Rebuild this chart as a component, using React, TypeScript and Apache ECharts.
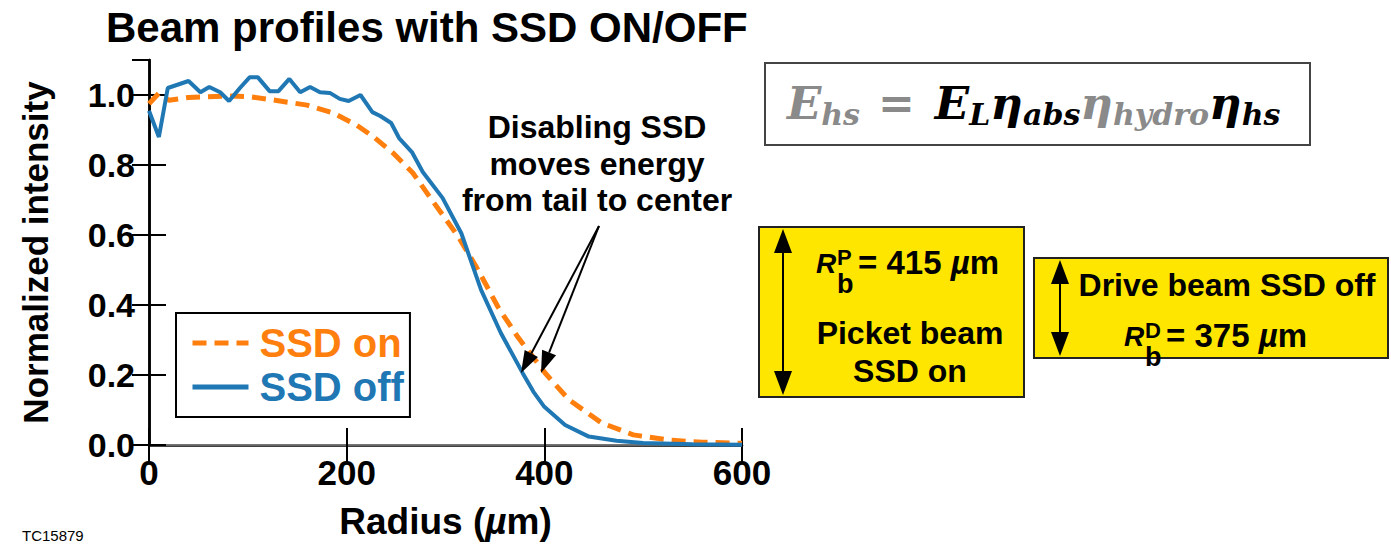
import React, { useEffect, useRef } from "react";
import * as echarts from "echarts";

const FONT = '"Liberation Sans", Arial, Helvetica, sans-serif';
const SERIF = '"DejaVu Serif", "Liberation Serif", serif';

// SSD off (solid blue)
const radiusOff = [0, 10, 19, 40, 52, 61, 72, 81, 92, 102, 110, 122, 131, 142, 153, 163, 173, 183, 193, 202, 214, 226, 234, 245, 253, 266, 277, 297, 316, 336, 356, 378, 389, 400, 421, 445, 473, 500, 550, 600];
const intensityOff = [0.955, 0.88, 1.02, 1.04, 1.008, 1.023, 1.008, 0.983, 1.02, 1.051, 1.051, 1.011, 1.011, 1.046, 1.008, 1.023, 1.008, 1.006, 0.989, 0.983, 1.0, 0.951, 0.94, 0.92, 0.877, 0.837, 0.78, 0.706, 0.605, 0.443, 0.32, 0.206, 0.152, 0.109, 0.057, 0.024, 0.012, 0.006, 0.002, 0.001];

// SSD on (dashed orange)
const radiusOn = [0, 10, 20, 40, 60, 80, 102, 125, 160, 186, 210, 227, 247, 267, 285, 313, 333, 353, 373, 393, 401, 425, 458, 490, 526, 560, 600];
const intensityOn = [0.975, 1.005, 0.985, 0.993, 0.995, 0.997, 0.995, 0.986, 0.971, 0.949, 0.914, 0.881, 0.834, 0.777, 0.705, 0.595, 0.5, 0.395, 0.309, 0.235, 0.205, 0.129, 0.063, 0.029, 0.014, 0.008, 0.005];

const xTicks = [0, 200, 400, 600];
const yTickStep = 0.2;

const annotationLines = ["Disabling SSD", "moves energy", "from tail to center"];

function txt(x: number, y: number, text: string, opts: any = {}) {
  const align = opts.align || "left";
  const valign = opts.valign || "middle";
  return {
    type: "text",
    x,
    y,
    z: 10,
    style: {
      text,
      fontSize: opts.size || 32,
      fontWeight: opts.weight || "bold",
      fontStyle: opts.italic ? "italic" : "normal",
      fontFamily: opts.family || FONT,
      fill: opts.color || "#000",
      align,
      verticalAlign: valign,
      textAlign: align,
      textVerticalAlign: valign,
      lineHeight: opts.lineHeight,
      rich: opts.rich,
    },
  };
}

function arrowHead(tx: number, ty: number, fx: number, fy: number, len: number, w: number) {
  const dx = tx - fx;
  const dy = ty - fy;
  const d = Math.sqrt(dx * dx + dy * dy);
  const ux = dx / d;
  const uy = dy / d;
  const bx = tx - ux * len;
  const by = ty - uy * len;
  const px = -uy * w / 2;
  const py = ux * w / 2;
  return {
    pts: [[tx, ty], [bx + px, by + py], [bx - px, by - py]],
    base: [bx, by],
  };
}

function arrow(x1: number, y1: number, x2: number, y2: number, len: number, w: number, lw: number, both = false) {
  const h2 = arrowHead(x2, y2, x1, y1, len, w);
  const out: any[] = [];
  let start = [x1, y1];
  if (both) {
    const h1 = arrowHead(x1, y1, x2, y2, len, w);
    start = h1.base;
    out.push({ type: "polygon", z: 11, shape: { points: h1.pts }, style: { fill: "#000" } });
  }
  out.push({
    type: "line",
    z: 11,
    shape: { x1: start[0], y1: start[1], x2: h2.base[0], y2: h2.base[1] },
    style: { stroke: "#000", lineWidth: lw },
  });
  out.push({ type: "polygon", z: 11, shape: { points: h2.pts }, style: { fill: "#000" } });
  return out;
}

function radiusLabel(x: number, y: number, sup: string, value: string) {
  // R with stacked superscript / subscript
  return [
    txt(x, y, "R", { size: 28, italic: true }),
    txt(x + 21, y - 6, sup, { size: 22 }),
    txt(x + 21, y + 21, "b", { size: 27 }),
    txt(x + 42, y - 1, `= ${value} {mu|µ}m`, {
      size: 33,
      rich: { mu: { fontSize: 33, fontStyle: "italic", fontWeight: "bold", fontFamily: FONT, fill: "#000" } },
    }),
  ];
}

export default function App() {
  const ref = useRef<HTMLDivElement>(null);

  useEffect(() => {
    if (!ref.current) return;
    const chart = echarts.init(ref.current, undefined, { renderer: "svg" });

    const eqBase = { fontFamily: SERIF, fontWeight: "bold", fontStyle: "italic" };
    const gray = "#8a8a8a";

    const graphic: any[] = [
      // equation box
      {
        type: "rect",
        z: 5,
        shape: { x: 765, y: 63, width: 545, height: 82 },
        style: { fill: "#fff", stroke: "#444", lineWidth: 2 },
      },
      txt(787, 103, "{g|E}{gs|hs}{eq|=}{b|E}{bs|L}{b|η}{bs|abs}{g|η}{gs|hydro}{b|η}{bs|hs}", {
        rich: {
          g: { ...eqBase, fontSize: 45, lineHeight: 52, fill: gray },
          gs: { ...eqBase, fontSize: 30, lineHeight: 20, verticalAlign: "bottom", fill: gray },
          eq: { fontFamily: SERIF, fontWeight: "bold", fontSize: 44, lineHeight: 52, fill: gray, padding: [0, 20, 0, 18] },
          b: { ...eqBase, fontSize: 45, lineHeight: 52, fill: "#000" },
          bs: { ...eqBase, fontSize: 30, lineHeight: 20, verticalAlign: "bottom", fill: "#000" },
        },
      }),
      // picket beam box
      {
        type: "rect",
        z: 5,
        shape: { x: 759, y: 227, width: 265, height: 170 },
        style: { fill: "#ffe600", stroke: "#222", lineWidth: 2 },
      },
      ...arrow(783, 229, 783, 395, 24, 18, 2, true),
      ...radiusLabel(816, 263, "P", "415"),
      txt(910, 333, "Picket beam", { align: "center" }),
      txt(910, 371, "SSD on", { align: "center" }),
      // drive beam box
      {
        type: "rect",
        z: 5,
        shape: { x: 1034, y: 258, width: 354, height: 100 },
        style: { fill: "#ffe600", stroke: "#222", lineWidth: 2 },
      },
      ...arrow(1060, 260, 1060, 356, 24, 18, 2, true),
      txt(1227, 285, "Drive beam SSD off", { align: "center" }),
      ...radiusLabel(1124, 336, "D", "375"),
      // annotation
      txt(597, 127, annotationLines[0], { align: "center" }),
      txt(597, 164, annotationLines[1], { align: "center" }),
      txt(597, 200, annotationLines[2], { align: "center" }),
      ...arrow(599, 226, 521, 373, 22, 15, 2),
      ...arrow(599, 226, 541, 373, 22, 15, 2),
      // figure code
      txt(22, 535, "TC15879", { size: 15, weight: "normal" }),
    ];

    const yFmt = (v: number) => {
      const k = Math.round(v / yTickStep);
      return Math.abs(k * yTickStep - v) < 1e-6 ? v.toFixed(1) : "";
    };

    chart.setOption({
      animation: false,
      backgroundColor: "#fff",
      textStyle: { fontFamily: FONT },
      title: {
        text: "Beam profiles with SSD ON/OFF",
        left: 106,
        top: 6,
        padding: 0,
        textStyle: { fontFamily: FONT, fontWeight: "bold", fontSize: 42, color: "#000" },
      },
      grid: { left: 149, top: 60, width: 593, height: 385, containLabel: false },
      legend: {
        orient: "vertical",
        left: 176,
        top: 313,
        padding: [8, 6, 8, 14],
        itemGap: 0,
        itemWidth: 56,
        itemHeight: 20,
        borderColor: "#000",
        borderWidth: 2,
        backgroundColor: "#fff",
        itemStyle: { opacity: 0 },
        lineStyle: { width: 5 },
        textStyle: { fontFamily: FONT, fontWeight: "bold", fontSize: 40, lineHeight: 44, padding: [0, 0, 0, 6] },
        data: [
          { name: "SSD on", textStyle: { color: "#ff7f0e" } },
          { name: "SSD off", textStyle: { color: "#1f77b4" } },
        ],
      },
      xAxis: [
        {
          type: "value",
          position: "bottom",
          min: xTicks[0],
          max: xTicks[xTicks.length - 1],
          interval: xTicks[1] - xTicks[0],
          name: "Radius ({mu|µ}m)",
          nameLocation: "middle",
          nameGap: 58,
          nameTextStyle: {
            fontFamily: FONT,
            fontWeight: "bold",
            fontSize: 37,
            color: "#000",
            rich: { mu: { fontFamily: FONT, fontWeight: "bold", fontStyle: "italic", fontSize: 37, color: "#000" } },
          },
          axisLine: { lineStyle: { color: "#000", width: 2.5 } },
          axisTick: { inside: true, length: 17, lineStyle: { color: "#000", width: 2 } },
          axisLabel: { fontFamily: FONT, fontWeight: "bold", fontSize: 35, color: "#000", margin: 10 },
          splitLine: { show: false },
        },
        {
          type: "value",
          position: "top",
          min: xTicks[0],
          max: xTicks[xTicks.length - 1],
          interval: xTicks[1] - xTicks[0],
          axisLine: { lineStyle: { color: "#888", width: 1.5 } },
          axisTick: { inside: true, length: 17, lineStyle: { color: "#000", width: 2 } },
          axisLabel: { show: false },
          splitLine: { show: false },
        },
      ],
      yAxis: [
        {
          type: "value",
          position: "left",
          min: 0,
          max: 1.1,
          interval: yTickStep,
          name: "Normalized intensity",
          nameLocation: "middle",
          nameRotate: 90,
          nameGap: 96,
          nameTextStyle: { fontFamily: FONT, fontWeight: "bold", fontSize: 35, color: "#000" },
          axisLine: { lineStyle: { color: "#000", width: 2.5 } },
          axisTick: { inside: true, length: 17, lineStyle: { color: "#000", width: 2 } },
          axisLabel: { fontFamily: FONT, fontWeight: "bold", fontSize: 34, color: "#000", margin: 14, formatter: yFmt, showMaxLabel: false },
          splitLine: { show: false },
        },
        {
          type: "value",
          position: "right",
          min: 0,
          max: 1.1,
          interval: yTickStep,
          axisLine: { show: true, lineStyle: { color: "#000", width: 2.5 } },
          axisTick: { show: true, inside: true, length: 17, lineStyle: { color: "#000", width: 2 } },
          axisLabel: { show: false },
          splitLine: { show: false },
        },
      ],
      series: [
        {
          name: "SSD on",
          type: "line",
          symbol: "none",
          data: radiusOn.map((r, i) => [r, intensityOn[i]]),
          lineStyle: { color: "#ff7f0e", width: 5, type: [14, 8] },
          itemStyle: { color: "#ff7f0e" },
          z: 2,
        },
        {
          name: "SSD off",
          type: "line",
          symbol: "none",
          data: radiusOff.map((r, i) => [r, intensityOff[i]]),
          lineStyle: { color: "#1f77b4", width: 4 },
          itemStyle: { color: "#1f77b4" },
          z: 3,
        },
      ],
      graphic,
    });

    return () => chart.dispose();
  }, []);

  return (
    <div
      ref={ref}
      style={{ position: "fixed", left: 0, top: 0, width: 1391, height: 548, background: "#fff" }}
    />
  );
}
